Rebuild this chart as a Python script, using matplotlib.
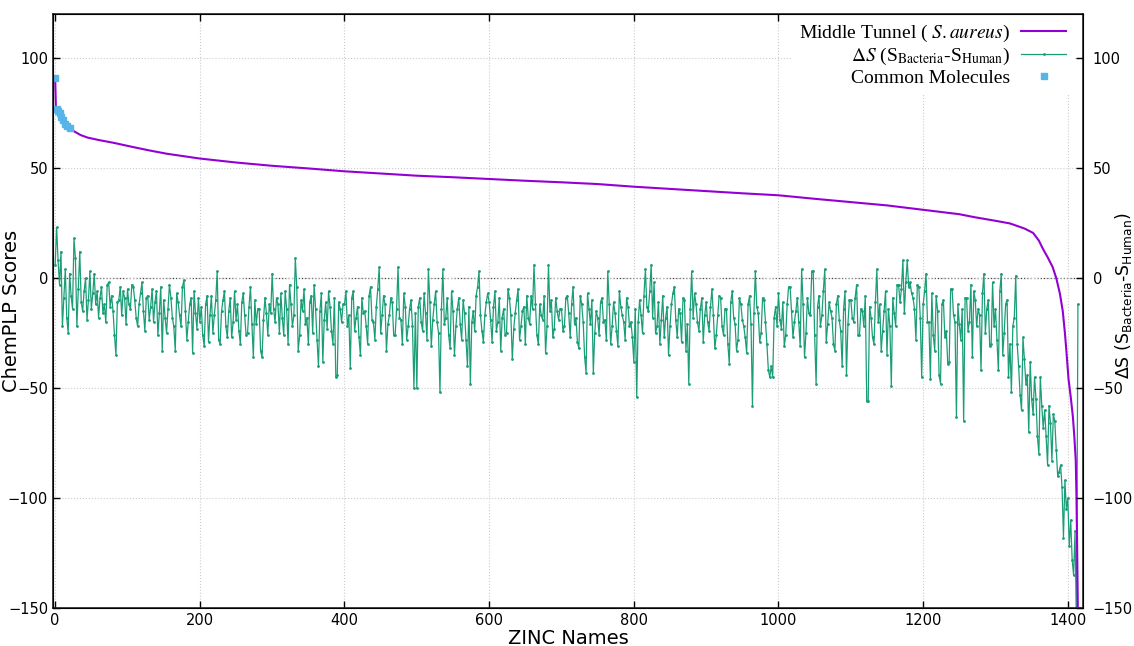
import numpy as np
import matplotlib

matplotlib.use("Agg")
import matplotlib.pyplot as plt

PURPLE = "#9400D3"
GREEN = "#1b9e77"
BLUE = "#56B4E9"

plt.rcParams["mathtext.fontset"] = "stix"

# Middle Tunnel (S. aureus) ChemPLP score, sorted
tunnel_x = [0, 1, 3, 6, 9, 14, 20, 27, 35, 45, 62, 80, 108, 130, 154, 200, 250,
            300, 350, 400, 450, 500, 550, 600, 650, 700, 750, 800, 850, 900, 950,
            1000, 1050, 1100, 1150, 1200, 1250, 1270, 1300, 1320, 1340, 1352,
            1360, 1366, 1372, 1379, 1384, 1389, 1393, 1396, 1398, 1401, 1404,
            1407, 1409, 1411, 1412, 1413, 1414]
tunnel_y = [91, 77, 76, 74, 72, 70, 68, 66.5, 65, 63.8, 62.6, 61.5, 59.5, 58,
            56.5, 54.3, 52.5, 51, 49.8, 48.5, 47.5, 46.5, 45.8, 45, 44.2, 43.5,
            42.7, 41.5, 40.5, 39.5, 38.5, 37.6, 36, 34.5, 33, 31, 29, 27.7, 26,
            24.8, 22.5, 20.5, 17, 13, 9.5, 5, 0, -7, -15, -25, -33, -46, -54,
            -63, -72, -83, -100, -125, -155]

# common molecules (top of the ranking)
common_x = [0, 2, 4, 6, 8, 11, 14, 17, 20]
common_y = [91, 77, 76, 75, 73, 72, 70, 69, 68]

# delta S (S_Bacteria - S_Human), every 2nd ZINC entry
delta_step = 2
delta_s = [
    6, 23, 8, -3, 12, -22, -9, 4, -18, -25, 2, -8, -14, 18, 9, -22, -5, 12, -11, -15, -6, 0, -19, -10, 3,
    -14, -7, 2, -12, -6, -18, -9, -4, -16, -12, -20, -3, -2, -13, -8, -15, -26, -35, -11, -10, -4, -17, -6, -9, -21,
    -5, -12, -14, -3, -4, -10, -18, -22, -12, -7, -2, -15, -24, -9, -8, -19, -13, -5, -20, -11, -6, -26, -16, -4, -33,
    -10, -18, -25, -14, -3, -9, -18, -22, -33, -7, -11, -17, -22, -4, -1, -15, -28, -20, -12, -9, -34, -6, -16, -23, -9,
    -20, -13, -26, -31, -12, -8, -29, -17, -8, -25, -17, -10, 3, -28, -30, -15, -10, -6, -22, -27, -15, -9, -27, -20, -6,
    -19, -12, -24, -30, -11, -7, -17, -26, -25, -13, -4, -21, -36, -10, -21, -14, -14, -33, -36, -19, -9, -16, -26, -12, -16,
    2, -14, -20, -9, -12, -25, -7, -18, -26, -6, -14, -30, -3, -12, -22, -17, 9, -4, -33, -26, -10, -15, -5, -21, -18,
    -30, -11, -8, -25, -3, -14, -28, -40, -15, -7, -38, -19, -11, -23, -6, -13, -24, -30, -9, -45, -44, -11, -14, -20, -12,
    -12, -6, -22, -17, -41, -9, -6, -24, -18, -13, -27, -35, -9, -16, -15, -22, -30, -8, -4, -19, -20, -28, -13, -5, 5,
    -25, -17, -8, -12, -33, -21, -17, -9, -11, -26, -26, -14, 5, -18, -19, -30, -7, -13, -28, -22, -14, -10, -22, -50, -16,
    -50, -13, -9, -20, -24, -7, -16, -28, 4, -11, -31, -19, -12, -6, -20, -25, -52, -14, 4, -21, -18, -9, -26, -32, -6,
    -15, -35, -22, -14, -9, -21, -28, -10, -16, -28, -40, -13, -48, -20, -15, -24, -8, -4, 3, -17, -24, -29, -17, -11, -7,
    -11, -19, -29, -13, -6, -24, -20, -9, -33, -18, -14, -26, -25, -5, -9, -17, -37, -23, -16, -10, -5, -28, -22, -15, -13,
    -30, -8, -18, -21, -8, -14, 6, -12, -26, -30, -12, -17, -19, -8, -34, -22, 6, -15, -10, -27, -23, -9, -15, -19, -14,
    -14, -24, -22, -9, -8, -16, -27, -12, -4, -21, -18, -29, -32, -8, -12, -20, -36, -43, -7, -14, -21, -10, -43, -25, -15,
    -18, -26, -11, -9, -20, -19, -28, 3, -12, -30, -22, -11, -16, -24, -31, -6, -13, -17, -20, -28, -9, -13, -22, -20, -27,
    -38, -14, -54, -20, -10, -17, -25, -8, 4, -13, -15, -6, 6, -18, -2, -25, -22, -11, -30, -19, -8, -27, -18, -13, -35,
    -22, -12, -7, -4, -19, -27, -14, -16, -29, -9, -10, -33, -21, -48, -14, 3, -18, -7, -12, -20, -24, -14, -9, -29, -17,
    -11, -20, -24, -13, -5, -17, -32, -26, -17, -8, -9, -22, -26, -14, -14, -30, -39, -11, -6, -18, -21, -33, -28, -9, -12,
    -19, -22, -27, -34, -12, -8, -21, -58, -16, 3, -13, -16, -29, -25, -9, -10, -20, -30, -42, -45, -40, -45, -18, -13, -22,
    -7, -19, -23, -11, -31, -26, -12, -4, -4, -15, -27, -20, -15, -9, -20, -31, 4, -12, -36, -25, -9, -16, -17, 3, 3,
    -26, -48, -13, -8, -22, -17, -6, 4, -29, -21, -11, -15, -18, -30, -33, -12, -8, -19, -24, -40, -14, -6, -44, -21, -10,
    -10, -18, -20, -9, -3, -26, -26, -14, -15, -22, -8, -56, -56, -13, -18, -27, -30, -11, 4, -20, -12, -33, -24, -15, -6,
    -35, -14, -22, -49, -9, -16, -22, -3, -3, -11, -5, 8, -16, -2, 8, -4, -2, -7, -9, -14, -28, -3, -4, -18, -45,
    -12, -6, 2, -20, -20, -46, -7, -26, -33, -8, -15, -44, -48, -12, -10, -27, -24, -39, -38, -5, -5, -17, -20, -63, -12,
    -21, -28, -14, -65, -9, -9, -24, -20, -3, -36, -6, -10, -22, -14, -17, -42, -7, 2, -25, -14, -10, -31, -30, -2, -22,
    -14, -28, -42, -6, 2, -35, -25, -12, -10, -45, -30, -52, -22, -18, 1, -30, -40, -53, -60, -27, -37, -48, -44, -70, -38,
    -55, -62, -45, -55, -72, -80, -45, -58, -68, -60, -72, -85, -58, -66, -83, -62, -65, -78, -90, -88, -85, -95, -118, -92, -105,
    -100, -122, -110, -128, -135, -115, -160, -12,
]
delta_x = np.arange(len(delta_s)) * delta_step

x_ticks = list(range(0, 1401, 200))
y_ticks = list(range(-150, 101, 50))

fig = plt.figure(figsize=(11.34, 6.46), dpi=100)
ax = fig.add_axes([53 / 1134, 1 - 608 / 646, 1030 / 1134, 594 / 646])

ax.grid(True, color="#cccccc", linestyle=":", linewidth=0.8)
ax.axhline(0, color="#444444", linestyle=":", linewidth=0.9, zorder=1)

ax.plot(tunnel_x, tunnel_y, color=PURPLE, linewidth=1.5, zorder=3,
        label="Middle Tunnel ( $\\it{S.aureus}$)")
ax.plot(delta_x, delta_s, color=GREEN, linewidth=0.9, marker=".", markersize=2.0,
        zorder=2, label="$\\Delta S$ (S$_{\\rm Bacteria}$-S$_{\\rm Human}$)")
ax.plot(common_x, common_y, linestyle="none", marker="s", markersize=5,
        color=BLUE, zorder=4, label="Common Molecules")

ax.set_xlim(-3, 1421)
ax.set_ylim(-150, 120)
ax.set_xticks(x_ticks)
ax.set_yticks(y_ticks)
ax.tick_params(direction="in", top=True, labelsize=10.5, length=5, width=1)
for sp in ax.spines.values():
    sp.set_linewidth(1.2)
    sp.set_color("#222222")

ax2 = ax.twinx()
ax2.set_ylim(-150, 120)
ax2.set_yticks(y_ticks)
ax2.tick_params(direction="in", labelsize=10.5, length=5, width=1, pad=7)

ax.set_xlabel("ZINC Names", fontsize=14, labelpad=2)
ax.xaxis.set_label_coords(0.5, -0.035)
ax.set_ylabel("ChemPLP Scores", fontsize=14)
ax.yaxis.set_label_coords(-0.031, 0.5)
fig.text(1124 / 1134, 1 - 296 / 646,
         "\u0394S (S$_{\\rm Bacteria}$-S$_{\\rm Human}$)",
         rotation=90, ha="center", va="center", fontsize=12.5,
         math_fontfamily="dejavusans")

leg = ax.legend(loc="upper right", bbox_to_anchor=(0.995, 1.005), frameon=True,
                markerfirst=False, numpoints=1,
                prop={"family": "Liberation Serif", "size": 14},
                handlelength=2.3, handletextpad=0.6, labelspacing=0.12,
                borderaxespad=0.2)
leg.get_frame().set_edgecolor("none")
leg.get_frame().set_facecolor("white")
leg.get_frame().set_alpha(1)
for t in leg.get_texts():
    t.set_ha("right")

fig.savefig("out.png", dpi=100)
